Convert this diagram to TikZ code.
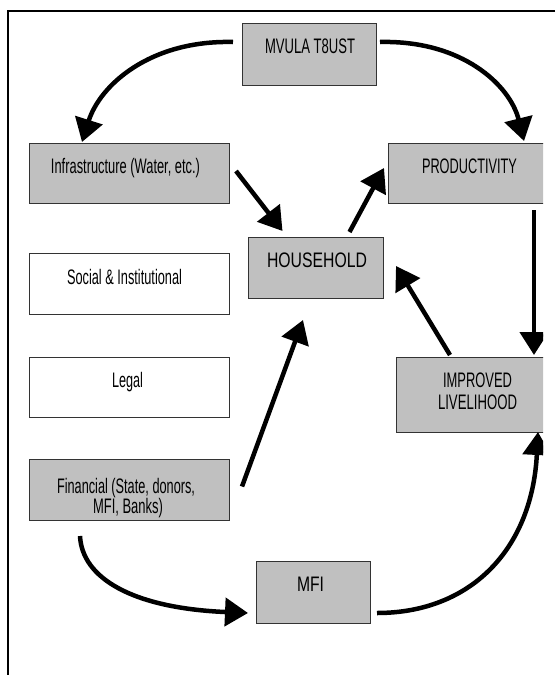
\documentclass[tikz,border=0pt]{standalone}
\usepackage{fontspec}
\setmainfont{Liberation Sans}
\usetikzlibrary{arrows.meta,calc}
\definecolor{boxgray}{HTML}{C0C0C0}
\definecolor{boxline}{HTML}{333333}
\newcommand\fitw[2]{\resizebox{#1}{\height}{#2}}
\begin{document}
\begin{tikzpicture}[x=1pt,y=-1pt,
  box/.style={draw=boxline, line width=0.9pt, fill=boxgray, inner sep=0pt, outer sep=0pt, anchor=north west},
  wbox/.style={box, fill=white},
  lbl/.style={font=\fontsize{21}{24}\selectfont, inner sep=0pt, anchor=base},
  arr/.style={line width=4.5pt, -{Triangle[length=23pt,width=28pt]}}]
\useasboundingbox (0,0) rectangle (555,675);
\fill[white] (0,0) rectangle (555,675);
\draw[line width=1.8pt] (555,11) -- (8,11) -- (8,676);
\begin{scope}
\clip (0,0) rectangle (543,675);
% boxes
\node[box, minimum width=134pt, minimum height=62pt] (mvula) at (242,23) {};
\node[box, minimum width=200pt, minimum height=60pt] (infra) at (29,143) {};
\node[box, minimum width=172pt, minimum height=60pt] (prod) at (388,143) {};
\node[box, minimum width=135pt, minimum height=61pt] (house) at (248,237) {};
\node[wbox, minimum width=200pt, minimum height=61pt] (social) at (29,253) {};
\node[wbox, minimum width=200pt, minimum height=60pt] (legal) at (29,357) {};
\node[box, minimum width=164pt, minimum height=75pt] (impr) at (396,357) {};
\node[box, minimum width=200pt, minimum height=61pt] (fin) at (29,459) {};
\node[box, minimum width=114pt, minimum height=62pt] (mfi) at (256,561) {};
% labels
\node[lbl] (mvula-t) at (310,53) {\fitw{90pt}{MVULA T8UST}};
\node[lbl] (infra-t) at (125.5,173) {\fitw{149pt}{Infrastructure (Water, etc.)}};
\node[lbl] (prod-t) at (469.5,173) {\fitw{95pt}{PRODUCTIVITY}};
\node[lbl] (house-t) at (317,267.5) {\fitw{100pt}{HOUSEHOLD}};
\node[lbl] (social-t) at (124.5,284.5) {\fitw{115pt}{Social \& Institutional}};
\node[lbl] (legal-t) at (127.5,387.5) {\fitw{31pt}{Legal}};
\node[lbl] (impr-t1) at (477.5,387.5) {\fitw{69pt}{IMPROVED}};
\node[lbl] (impr-t2) at (477.5,409.5) {\fitw{79pt}{LIVELIHOOD}};
\node[lbl] (fin-t1) at (126,493) {\fitw{138pt}{Financial (State, donors,}};
\node[lbl] (fin-t2) at (128,513) {\fitw{70pt}{MFI, Banks)}};
\node[lbl] (mfi-t) at (310.5,591) {\fitw{27pt}{MFI}};
% connectors
\draw[arr] ($(mvula.west)+(-9,-12)$) .. controls (150,40) and (100,85) .. ($(infra.north)+(-47,-1)$);
\draw[arr] ($(mvula.east)+(4,-12)$) .. controls (462,40) and (510,85) .. ($(prod.north)+(50,-2)$);
\draw[arr] ($(infra.east)+(7,-2)$) -- ($(house.north)+(-33,-6)$);
\draw[arr] ($(house.north)+(34,-5)$) -- ($(prod.west)+(-4,-5)$);
\draw[arr] ($(prod.south)+(60,7)$) -- ($(impr.north)+(56,-2)$);
\draw[arr] ($(impr.north)+(-28,-2)$) -- ($(house.east)+(13,-1.5)$);
\draw[arr] ($(fin.east)+(13,-3)$) -- ($(house.south)+(-12.5,22)$);
\draw[arr] ($(fin.south)+(-49,16)$) .. controls (82,578) and (132,608) .. ($(mfi.west)+(-8,21)$);
\draw[arr] ($(mfi.east)+(7,21)$) .. controls (470,613) and (532,550) .. ($(impr.south)+(60,0)$);
\end{scope}
\end{tikzpicture}
\end{document}
